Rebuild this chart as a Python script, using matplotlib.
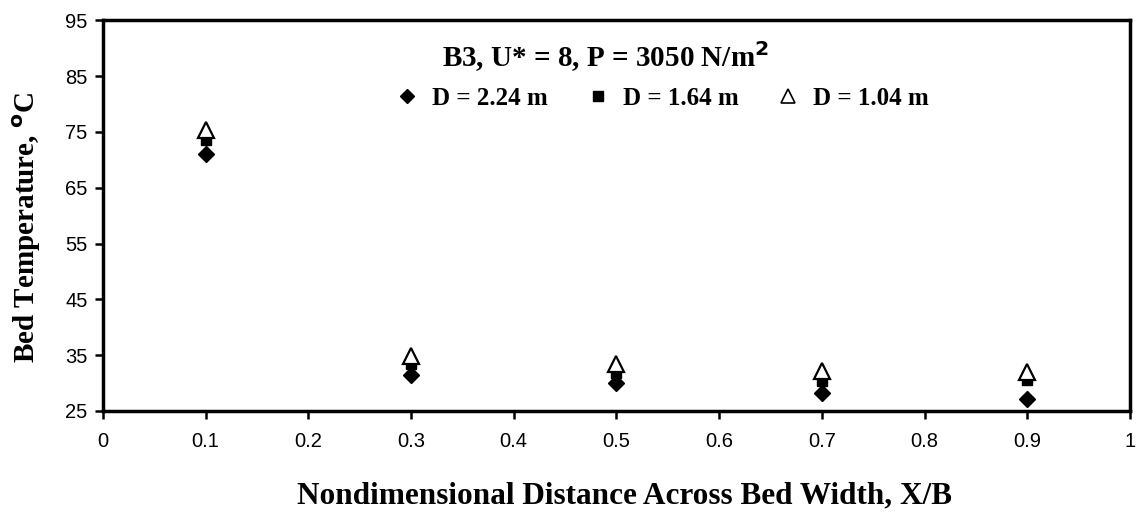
import matplotlib
matplotlib.use("Agg")
import matplotlib.pyplot as plt
from matplotlib.lines import Line2D

x_pos = [0.1, 0.3, 0.5, 0.7, 0.9]
d224 = [71.0, 31.5, 30.0, 28.3, 27.2]
d164 = [73.6, 33.5, 31.8, 30.3, 30.5]
d104 = [75.3, 34.9, 33.4, 32.1, 31.9]
x_ticks = [0, 0.1, 0.2, 0.3, 0.4, 0.5, 0.6, 0.7, 0.8, 0.9, 1]
x_ticklabels = ["0", "0.1", "0.2", "0.3", "0.4", "0.5", "0.6", "0.7", "0.8", "0.9", "1"]
y_ticks = [25, 35, 45, 55, 65, 75, 85, 95]
series_labels = ["D = 2.24 m", "D = 1.64 m", "D = 1.04 m"]

fig = plt.figure(figsize=(11.42, 5.18), dpi=100)
ax = fig.add_axes([0.090, 0.2066, 0.8995, 0.7544])

ax.plot(x_pos, d224, linestyle="none", marker="D", markersize=8, color="black")
ax.plot(x_pos, d164, linestyle="none", marker="s", markersize=7.5, color="black")
ax.plot(x_pos, d104, linestyle="none", marker="^", markersize=11,
        markerfacecolor="white", markeredgecolor="black", markeredgewidth=1.6)

ax.set_xlim(0, 1)
ax.set_ylim(25, 95)
ax.set_xticks(x_ticks)
ax.set_xticklabels(x_ticklabels)
ax.set_yticks(y_ticks)
for s in ax.spines.values():
    s.set_linewidth(2.5)
ax.tick_params(direction="out", length=6, width=1.8, labelsize=14.5)
ax.tick_params(axis="x", pad=9)
ax.tick_params(axis="y", pad=5)
for lab in ax.get_xticklabels() + ax.get_yticklabels():
    lab.set_fontfamily("Liberation Sans")

ax.set_xlabel("Nondimensional Distance Across Bed Width, X/B",
              fontfamily="Liberation Serif", fontweight="bold", fontsize=22.5, labelpad=20)
ax.xaxis.set_label_coords(0.508, -0.18)
ax.set_ylabel("Bed Temperature, $^{\\mathbf{o}}$C",
              fontfamily="Liberation Serif", fontweight="bold", fontsize=21)
ax.yaxis.set_label_coords(-0.058, 0.47)

ax.text(0.489, 0.908, "B3, U* = 8, P = 3050 N/m$^{\\mathbf{2}}$", transform=ax.transAxes,
        ha="center", va="center", fontfamily="Liberation Serif", fontweight="bold", fontsize=21)

handles = [
    Line2D([], [], linestyle="none", marker="D", markersize=7, color="black"),
    Line2D([], [], linestyle="none", marker="s", markersize=7, color="black"),
    Line2D([], [], linestyle="none", marker="^", markersize=10,
           markerfacecolor="white", markeredgecolor="black", markeredgewidth=1.2),
]
leg = ax.legend(handles, series_labels, ncol=3,
                loc="center", bbox_to_anchor=(0.543, 0.80), frameon=False,
                prop={"family": "Liberation Serif", "weight": "bold", "size": 18},
                handletextpad=0.4, columnspacing=1.4, handlelength=1.2)

fig.savefig("out.png", dpi=100)
